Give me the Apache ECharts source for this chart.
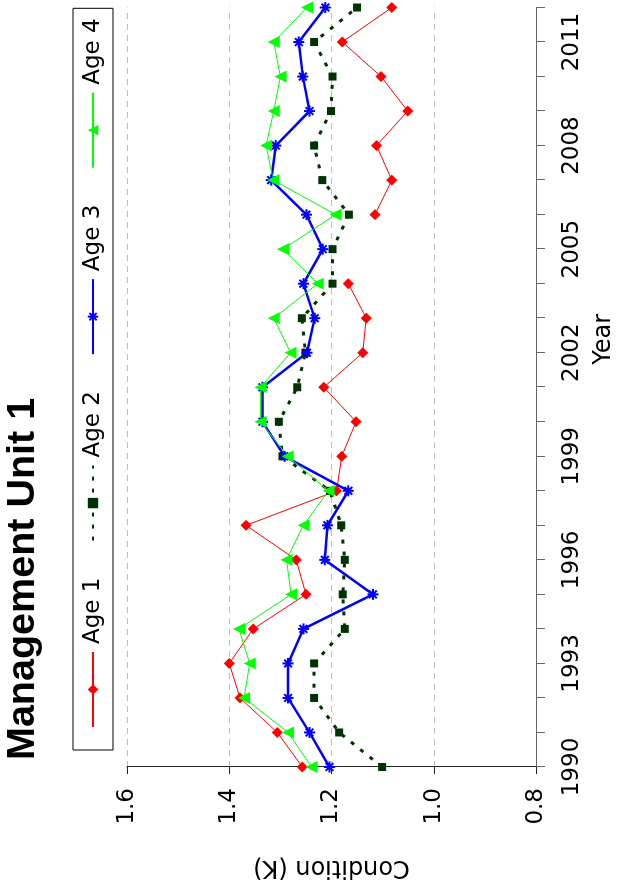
<!DOCTYPE html>
<html>
<head>
<meta charset="utf-8">
<style>
html, body {margin: 0; padding: 0; background: #fff; overflow: hidden;}
/* the chart is drawn landscape and turned a quarter left, like the source figure */
#main {
    position: absolute; left: 0; top: 0;
    width: 888px; height: 621px;
    transform-origin: 0 0;
    transform: translateY(888px) rotate(-90deg);
}
</style>
</head>
<body>
<div id="main"></div>
<script src="https://cdn.jsdelivr.net/npm/echarts/dist/echarts.min.js"></script>
<script>
    var years = ['1990', '1991', '1992', '1993', '1994', '1995', '1996', '1997', '1998', '1999', '2000', '2001',
        '2002', '2003', '2004', '2005', '2006', '2007', '2008', '2009', '2010', '2011', '2012'];

    var condTicks = [0.8, 1.0, 1.2, 1.4, 1.6];

    var age1 = [1.257, 1.306, 1.379, 1.400, 1.353, 1.250, 1.269, 1.367, 1.190, 1.180, 1.152, 1.215,
        1.139, 1.132, 1.167, null, 1.115, 1.082, 1.112, 1.051, 1.103, 1.179, 1.082];
    var age2 = [1.101, 1.185, 1.234, 1.234, 1.174, 1.178, 1.174, 1.181, 1.203, 1.296, 1.303, 1.267,
        1.251, 1.258, 1.198, 1.198, 1.166, 1.218, 1.234, 1.201, 1.198, 1.234, 1.150];
    var age3 = [1.204, 1.243, 1.285, 1.285, 1.255, 1.119, 1.213, 1.208, 1.167, 1.292, 1.335, 1.335,
        1.248, 1.233, 1.255, 1.217, 1.249, 1.318, 1.309, 1.243, 1.256, 1.264, 1.212];
    var age4 = [1.239, 1.285, 1.371, 1.360, 1.381, 1.279, 1.288, 1.255, 1.206, 1.286, 1.339, 1.339,
        1.280, 1.313, 1.227, 1.295, 1.192, 1.314, 1.328, 1.313, 1.300, 1.313, 1.248];

    // asterisk marker (plus + cross)
    var starPath = 'path://M5,0L5,10M0,5L10,5M1.5,1.5L8.5,8.5M8.5,1.5L1.5,8.5';

    var chart = echarts.init(document.getElementById('main'));

    var option = {
        animation: false,
        textStyle: {fontFamily: 'DejaVu Sans', color: '#000'},
        title: {
            text: 'Management Unit 1',
            left: 128,
            top: 3,
            padding: 0,
            textStyle: {fontFamily: 'Liberation Sans', fontWeight: 'bold', fontSize: 39.5, color: '#000'}
        },
        legend: {
            left: 138,
            top: 73,
            padding: [8, 10, 8, 22],
            borderColor: '#000',
            borderWidth: 1,
            itemWidth: 75,
            itemHeight: 13,
            itemGap: 36,
            textStyle: {fontSize: 23, lineHeight: 24, color: '#000', padding: [0, 0, 0, 3]},
            data: ['Age 1', 'Age 2', 'Age 3', 'Age 4']
        },
        grid: {left: 121, right: 7.5, top: 127, bottom: 84},
        xAxis: {
            type: 'category',
            data: years,
            boundaryGap: false,
            name: 'Year',
            nameLocation: 'middle',
            nameGap: 56,
            nameTextStyle: {fontSize: 24, color: '#000', padding: [0, 0, 0, 96]},
            axisLine: {show: true, lineStyle: {color: '#666', width: 1}},
            axisTick: {show: true, interval: 0, length: 9, lineStyle: {color: '#666'}},
            axisLabel: {interval: 2, fontSize: 23, color: '#000', margin: 25},
            splitLine: {show: false}
        },
        yAxis: {
            type: 'value',
            min: condTicks[0],
            max: condTicks[condTicks.length - 1],
            interval: 0.2,
            name: 'Condition (K)',
            nameLocation: 'middle',
            nameGap: 88,
            nameTextStyle: {fontSize: 24, color: '#000'},
            axisLine: {show: true, lineStyle: {color: '#222', width: 1}},
            axisTick: {show: true, length: 7, lineStyle: {color: '#222'}},
            axisLabel: {
                fontSize: 23, color: '#000', margin: 21,
                formatter: function (v) { return v.toFixed(1); }
            },
            splitLine: {show: true, lineStyle: {color: '#bdbdbd', width: 1, type: [6, 5]}}
        },
        series: [
            {
                name: 'Age 1', type: 'line', data: age1, connectNulls: false,
                symbol: 'diamond', symbolSize: 11,
                itemStyle: {color: '#ff0000'},
                lineStyle: {color: '#ff0000', width: 1}
            },
            {
                name: 'Age 2', type: 'line', data: age2,
                symbol: 'rect', symbolSize: 8,
                itemStyle: {color: '#003300'},
                lineStyle: {color: '#003300', width: 3, type: [4, 8]}
            },
            {
                name: 'Age 3', type: 'line', data: age3,
                symbol: starPath, symbolSize: 11,
                itemStyle: {color: '#0000ff', borderColor: '#0000ff', borderWidth: 2},
                lineStyle: {color: '#0000ff', width: 2.5}
            },
            {
                name: 'Age 4', type: 'line', data: age4,
                symbol: 'triangle', symbolSize: 12,
                itemStyle: {color: '#00ff00'},
                lineStyle: {color: '#00ff00', width: 1}
            }
        ]
    };

    chart.setOption(option);
</script>
</body>
</html>
